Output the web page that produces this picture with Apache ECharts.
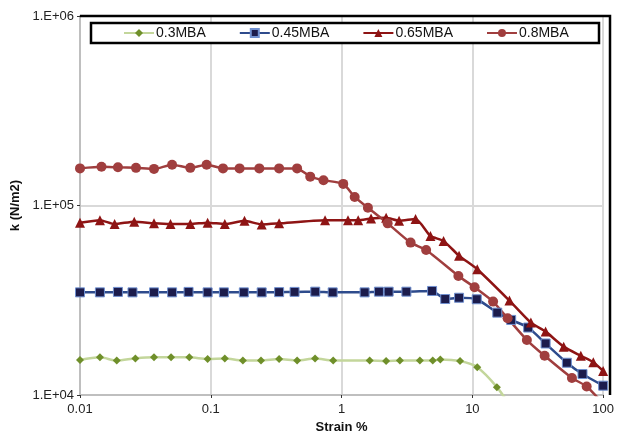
<!DOCTYPE html>
<html>
<head>
<meta charset="utf-8">
<script src="https://cdn.jsdelivr.net/npm/echarts@6/dist/echarts.min.js"></script>
<style>
  html, body { margin: 0; padding: 0; background: #fff; }
  #chart { width: 617px; height: 440px; }
</style>
</head>
<body>
<div id="chart"></div>
<script>
// series names
var names = ['0.3MBA', '0.45MBA', '0.65MBA', '0.8MBA'];

// strain (%) and stiffness k (N/m2)
var strain03 = [0.01, 0.0142, 0.0191, 0.0265, 0.0368, 0.0497, 0.0685, 0.0946, 0.128, 0.176, 0.242, 0.333, 0.457, 0.627, 0.863, 1.64, 2.19, 2.79, 3.97, 4.98, 5.69, 8.05, 10.9, 15.4, 20];
var k03 = [1.53e4, 1.58e4, 1.52e4, 1.56e4, 1.58e4, 1.58e4, 1.58e4, 1.55e4, 1.56e4, 1.52e4, 1.52e4, 1.55e4, 1.52e4, 1.56e4, 1.52e4, 1.52e4, 1.51e4, 1.52e4, 1.52e4, 1.52e4, 1.54e4, 1.51e4, 1.40e4, 1.10e4, 8.5e3];

var strain045 = [0.01, 0.0142, 0.0195, 0.0252, 0.0368, 0.0506, 0.0676, 0.0946, 0.126, 0.179, 0.245, 0.333, 0.437, 0.629, 0.855, 1.50, 1.93, 2.29, 3.13, 4.92, 6.20, 7.91, 10.8, 15.5, 19.8, 26.7, 36.3, 52.8, 69.5, 100];
var k045 = [3.48e4, 3.48e4, 3.50e4, 3.48e4, 3.48e4, 3.48e4, 3.50e4, 3.48e4, 3.48e4, 3.48e4, 3.48e4, 3.49e4, 3.50e4, 3.51e4, 3.48e4, 3.48e4, 3.51e4, 3.51e4, 3.51e4, 3.54e4, 3.21e4, 3.26e4, 3.20e4, 2.72e4, 2.49e4, 2.27e4, 1.87e4, 1.48e4, 1.29e4, 1.12e4];

var strain065 = [0.01, 0.0142, 0.0184, 0.026, 0.0368, 0.0492, 0.0697, 0.0946, 0.128, 0.181, 0.245, 0.333, 0.748, 1.12, 1.34, 1.68, 2.19, 2.75, 3.68, 4.78, 6.02, 7.91, 10.9, 19.2, 28.0, 36.3, 49.9, 67.5, 84.1, 100];
var k065 = [8.1e4, 8.37e4, 7.98e4, 8.22e4, 8.05e4, 7.98e4, 7.98e4, 8.12e4, 7.98e4, 8.30e4, 7.95e4, 8.05e4, 8.37e4, 8.37e4, 8.37e4, 8.54e4, 8.61e4, 8.31e4, 8.49e4, 6.90e4, 6.50e4, 5.43e4, 4.61e4, 3.15e4, 2.41e4, 2.16e4, 1.80e4, 1.61e4, 1.49e4, 1.34e4];

var strain08 = [0.01, 0.0146, 0.0195, 0.0268, 0.0368, 0.0506, 0.0697, 0.0929, 0.124, 0.166, 0.235, 0.333, 0.457, 0.576, 0.727, 1.03, 1.26, 1.59, 2.25, 3.37, 4.43, 7.82, 10.4, 14.4, 18.6, 26.1, 35.7, 57.7, 74.8, 100];
var k08 = [1.57e5, 1.60e5, 1.59e5, 1.58e5, 1.56e5, 1.64e5, 1.58e5, 1.64e5, 1.57e5, 1.57e5, 1.57e5, 1.57e5, 1.57e5, 1.42e5, 1.36e5, 1.30e5, 1.11e5, 9.72e4, 8.05e4, 6.37e4, 5.82e4, 4.25e4, 3.70e4, 3.11e4, 2.54e4, 1.95e4, 1.61e4, 1.23e4, 1.11e4, 9.0e3];

function pairs(xs, ys) {
  return xs.map(function (x, i) { return [x, ys[i]]; });
}

var font = "'Liberation Sans', Arial, sans-serif";

var chart = echarts.init(document.getElementById('chart'));

var option = {
  backgroundColor: '#fff',
  animation: false,
  textStyle: { fontFamily: font },
  grid: { left: 80, right: 7, top: 16, bottom: 45 },
  legend: {
    data: names,
    left: 123,
    top: 26,
    padding: 0,
    itemGap: 33,
    itemWidth: 30,
    itemHeight: 10,
    z: 10,
    textStyle: { fontFamily: font, fontSize: 14, color: '#111', padding: [0, 0, 0, -3] }
  },
  graphic: [
    {
      type: 'rect',
      z: 5,
      shape: { x: 91, y: 23, width: 508, height: 20 },
      style: { fill: '#fff', stroke: '#000', lineWidth: 2.5 }
    },
    {
      type: 'polyline',
      z: 5,
      shape: { points: [[80, 16], [610, 16], [610, 395]] },
      style: { fill: null, stroke: '#000', lineWidth: 2.5 }
    }
  ],
  xAxis: {
    type: 'log',
    logBase: 10,
    min: 0.01,
    max: 100,
    name: 'Strain %',
    nameLocation: 'middle',
    nameGap: 23,
    nameTextStyle: { fontFamily: font, fontSize: 13, fontWeight: 'bold', color: '#111' },
    axisLine: { lineStyle: { color: '#bfbfbf', width: 2 } },
    axisTick: { show: true, length: 3, lineStyle: { color: '#333', width: 1 } },
    axisLabel: {
      margin: 8,
      fontSize: 13,
      color: '#222',
      formatter: function (v) { return String(parseFloat(v.toPrecision(6))); }
    },
    splitLine: { show: true, lineStyle: { color: '#d9d9d9', width: 2 } },
    minorSplitLine: { show: false }
  },
  yAxis: {
    type: 'log',
    logBase: 10,
    min: 1e4,
    max: 1e6,
    name: 'k (N/m2)',
    nameLocation: 'middle',
    nameGap: 55,
    nameTextStyle: { fontFamily: font, fontSize: 13, fontWeight: 'bold', color: '#111' },
    axisLine: { show: true, lineStyle: { color: '#bfbfbf', width: 2 } },
    axisTick: { show: true, length: 3, lineStyle: { color: '#333', width: 1 } },
    axisLabel: {
      margin: 6,
      fontSize: 13,
      color: '#222',
      formatter: function (v) { return '1.E+0' + Math.round(Math.log10(v)); }
    },
    splitLine: { show: true, lineStyle: { color: '#d9d9d9', width: 2 } }
  },
  series: [
    {
      name: names[0],
      type: 'line',
      data: pairs(strain03, k03),
      smooth: 0.3,
      symbol: 'diamond',
      symbolSize: 8,
      itemStyle: { color: '#6f8f2a' },
      lineStyle: { color: '#c3d69b', width: 2.5 }
    },
    {
      name: names[1],
      type: 'line',
      data: pairs(strain045, k045),
      smooth: 0.2,
      symbol: 'rect',
      symbolSize: 9,
      itemStyle: { color: '#1c1c4c', borderColor: '#7090d0', borderWidth: 1 },
      lineStyle: { color: '#2e4b8c', width: 2.5 }
    },
    {
      name: names[2],
      type: 'line',
      data: pairs(strain065, k065),
      smooth: 0.2,
      symbol: 'triangle',
      symbolSize: 10,
      itemStyle: { color: '#8e1414' },
      lineStyle: { color: '#8e1414', width: 2.5 }
    },
    {
      name: names[3],
      type: 'line',
      data: pairs(strain08, k08),
      smooth: 0.2,
      symbol: 'circle',
      symbolSize: 10,
      itemStyle: { color: '#a03e3e' },
      lineStyle: { color: '#a03e3e', width: 2.5 }
    }
  ]
};

chart.setOption(option);
</script>
</body>
</html>
